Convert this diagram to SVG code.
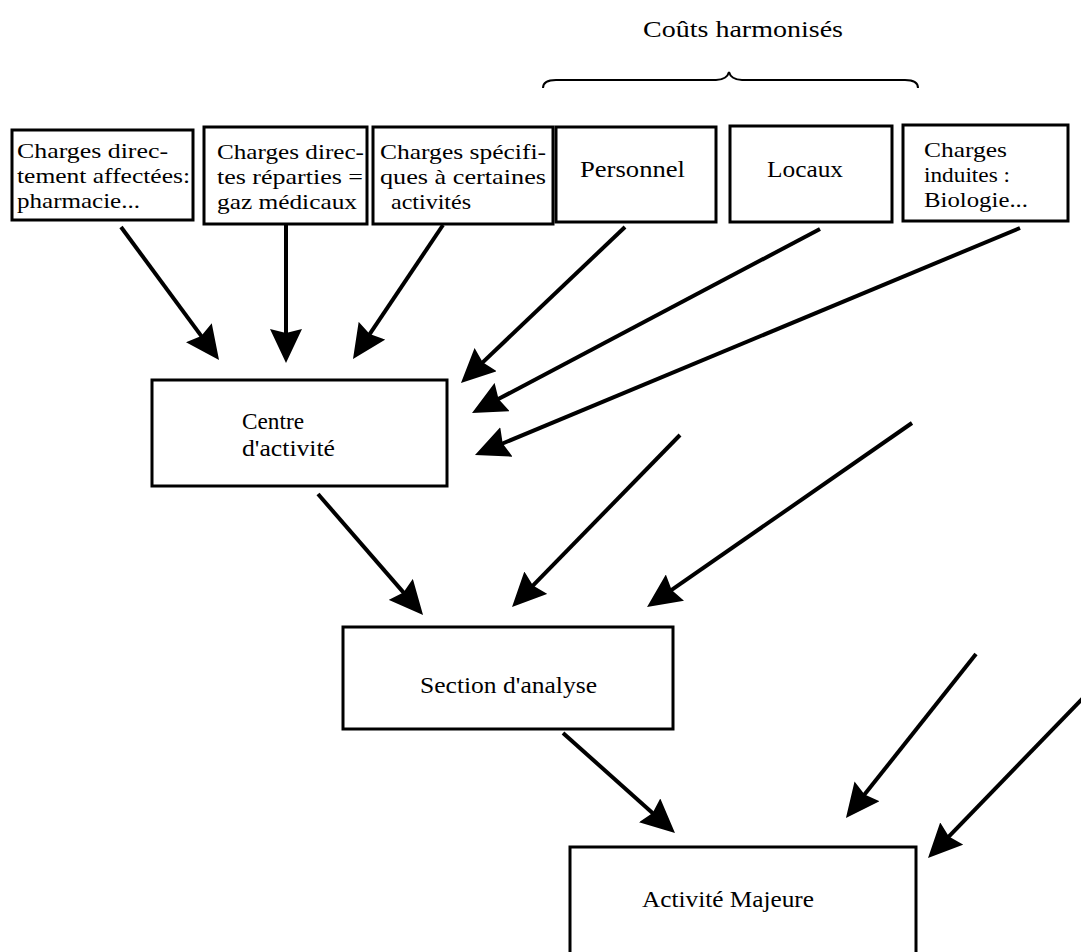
<svg xmlns="http://www.w3.org/2000/svg" width="1081" height="952" viewBox="0 0 1081 952">
  <style>
    .box { fill: #fff; stroke: #000; stroke-width: 3; }
    .lbl { font-family: "Liberation Serif", "Times New Roman", serif; font-size: 24px; fill: #000; }
    .sm { font-size: 22px; }
    .edge { stroke: #000; stroke-width: 4; fill: none; marker-end: url(#head); }
    .brace { stroke: #000; stroke-width: 2; fill: none; }
  </style>
  <defs>
    <marker id="head" markerUnits="userSpaceOnUse" markerWidth="34" markerHeight="32" refX="8" refY="16" orient="auto">
      <path d="M0,0 L34,16 L0,32 L4,16 Z" fill="#000"/>
    </marker>
  </defs>
  <rect width="1081" height="952" fill="#fff"/>

  <!-- heading and brace over the harmonised cost boxes -->
  <g id="harmonises">
    <text class="lbl" x="643" y="37" textLength="200" lengthAdjust="spacingAndGlyphs">Coûts harmonisés</text>
    <path class="brace" d="M543,88 C543,82 548,80 556,80 L716,80 C724,80 728,76 729,72 C730,76 734,80 742,80 L905,80 C913,80 918,82 918,88"/>
  </g>

  <!-- cost sources -->
  <g id="charges-affectees">
    <rect class="box" x="12" y="130" width="181" height="90"/>
    <text class="lbl sm" x="17" y="158" textLength="151" lengthAdjust="spacingAndGlyphs">Charges direc-</text>
    <text class="lbl sm" x="17" y="183" textLength="173" lengthAdjust="spacingAndGlyphs">tement affectées:</text>
    <text class="lbl sm" x="17" y="208" textLength="123" lengthAdjust="spacingAndGlyphs">pharmacie...</text>
  </g>
  <g id="charges-reparties">
    <rect class="box" x="204" y="127" width="163" height="97"/>
    <text class="lbl sm" x="217" y="159" textLength="147" lengthAdjust="spacingAndGlyphs">Charges direc-</text>
    <text class="lbl sm" x="217" y="184" textLength="146" lengthAdjust="spacingAndGlyphs">tes réparties =</text>
    <text class="lbl sm" x="217" y="209" textLength="140" lengthAdjust="spacingAndGlyphs">gaz médicaux</text>
  </g>
  <g id="charges-specifiques">
    <rect class="box" x="373" y="127" width="180" height="97"/>
    <text class="lbl sm" x="380" y="159" textLength="166" lengthAdjust="spacingAndGlyphs">Charges spécifi-</text>
    <text class="lbl sm" x="380" y="184" textLength="166" lengthAdjust="spacingAndGlyphs">ques à certaines</text>
    <text class="lbl sm" x="391" y="209" textLength="80" lengthAdjust="spacingAndGlyphs">activités</text>
  </g>
  <g id="personnel">
    <rect class="box" x="556" y="127" width="160" height="95"/>
    <text class="lbl" x="580" y="177" textLength="105" lengthAdjust="spacingAndGlyphs">Personnel</text>
  </g>
  <g id="locaux">
    <rect class="box" x="730" y="126" width="162" height="96"/>
    <text class="lbl" x="767" y="177" textLength="76" lengthAdjust="spacingAndGlyphs">Locaux</text>
  </g>
  <g id="charges-induites">
    <rect class="box" x="903" y="125" width="165" height="96"/>
    <text class="lbl sm" x="924" y="157" textLength="83" lengthAdjust="spacingAndGlyphs">Charges</text>
    <text class="lbl sm" x="924" y="182" textLength="86" lengthAdjust="spacingAndGlyphs">induites :</text>
    <text class="lbl sm" x="924" y="207" textLength="104" lengthAdjust="spacingAndGlyphs">Biologie...</text>
  </g>

  <!-- aggregation levels -->
  <g id="centre-activite">
    <rect class="box" x="152" y="380" width="295" height="106"/>
    <text class="lbl" x="242" y="429" textLength="62" lengthAdjust="spacingAndGlyphs">Centre</text>
    <text class="lbl" x="242" y="456" textLength="93" lengthAdjust="spacingAndGlyphs">d'activité</text>
  </g>
  <g id="section-analyse">
    <rect class="box" x="343" y="627" width="330" height="102"/>
    <text class="lbl" x="420" y="693" textLength="177" lengthAdjust="spacingAndGlyphs">Section d'analyse</text>
  </g>
  <g id="activite-majeure">
    <rect class="box" x="570" y="847" width="346" height="130"/>
    <text class="lbl" x="642" y="907" textLength="172" lengthAdjust="spacingAndGlyphs">Activité Majeure</text>
  </g>

  <!-- flows -->
  <g id="connectors">
    <line class="edge" x1="121" y1="227" x2="203.6" y2="339.1"/>
    <line class="edge" x1="286" y1="225" x2="286" y2="337"/>
    <line class="edge" x1="443" y1="225" x2="367.5" y2="337.4"/>
    <line class="edge" x1="625" y1="227" x2="479.8" y2="365.1"/>
    <line class="edge" x1="820" y1="229" x2="495" y2="400.8"/>
    <line class="edge" x1="1020" y1="228" x2="499" y2="445"/>
    <line class="edge" x1="318" y1="494" x2="406" y2="595.4"/>
    <line class="edge" x1="680" y1="435" x2="530.2" y2="588.4"/>
    <line class="edge" x1="912" y1="423" x2="668.4" y2="592.2"/>
    <line class="edge" x1="563" y1="733" x2="655.6" y2="815.7"/>
    <line class="edge" x1="976" y1="654" x2="862.1" y2="797.6"/>
    <line class="edge" x1="1083" y1="698" x2="946.1" y2="839.3"/>
  </g>
</svg>
